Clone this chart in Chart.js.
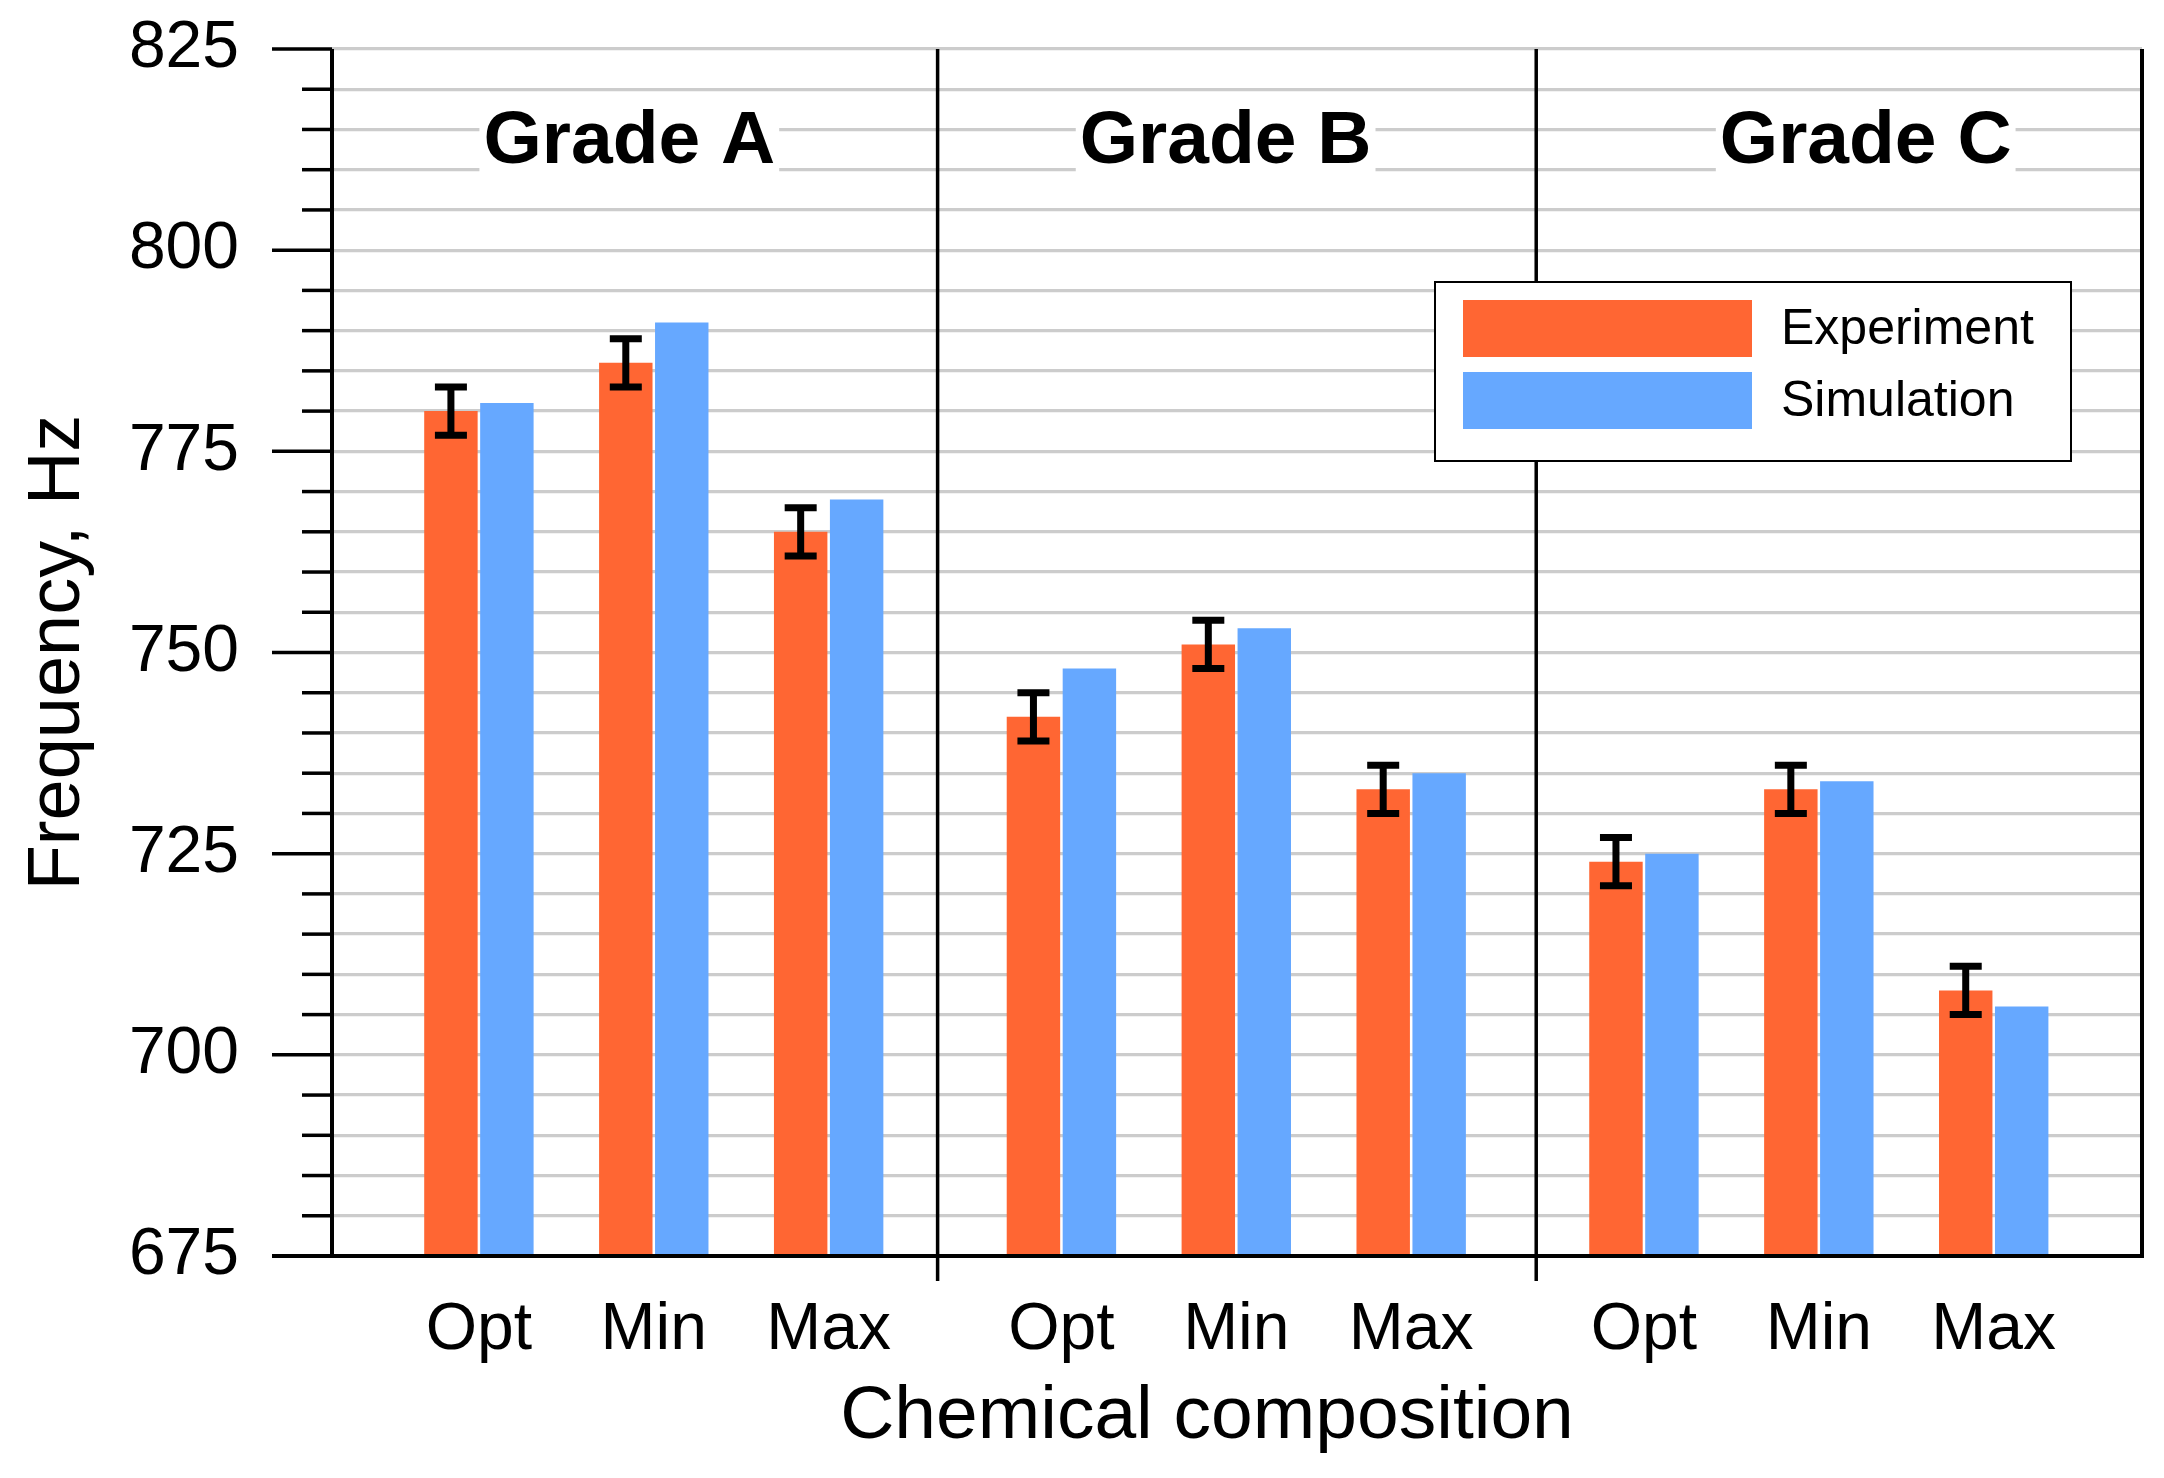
<!DOCTYPE html>
<html>
<head>
<meta charset="utf-8">
<script src="https://cdn.jsdelivr.net/npm/chart.js@4.4.1/dist/chart.umd.min.js"></script>
<style>
  html, body { margin: 0; padding: 0; background: #fff; }
  canvas { display: block; }
</style>
</head>
<body>
<canvas id="chart" width="2164" height="1478"></canvas>
<script>
var categories = ['Opt', 'Min', 'Max', 'Opt', 'Min', 'Max', 'Opt', 'Min', 'Max'];
var grades = ['Grade A', 'Grade B', 'Grade C'];
var experiment = [780, 786, 765, 742, 751, 733, 724, 733, 708];
var experimentErr = [3, 3, 3, 3, 3, 3, 3, 3, 3];
var simulation = [781, 791, 769, 748, 753, 735, 725, 734, 706];
var yTicks = [675, 700, 725, 750, 775, 800, 825];
var xTitle = 'Chemical composition';

// layout, in x axis units (one composition = 1, extra room between grades)
var gradeGap = 0.331;
var gradeLabelX = [0.86, 4.27, 7.93];
var dividerX = [2.623, 6.046];

var orange = '#FF6633';
var blue = '#66A8FF';
var FONT = '"Liberation Sans", Arial, Helvetica, sans-serif';
var MAJOR_TICK = 60, MINOR_TICK = 30;

function xPos(i) { return i + Math.floor(i / 3) * gradeGap; }

var decorations = {
  id: 'decorations',
  afterDatasetsDraw: function (chart) {
    var ctx = chart.ctx, a = chart.chartArea;
    var xs = chart.scales.x, ys = chart.scales.y;
    ctx.save();
    ctx.strokeStyle = '#000';
    ctx.lineCap = 'butt';

    // error bars on the experiment bars
    ctx.lineWidth = 7;
    chart.getDatasetMeta(0).data.forEach(function (bar, i) {
      var top = ys.getPixelForValue(experiment[i] + experimentErr[i]);
      var bot = ys.getPixelForValue(experiment[i] - experimentErr[i]);
      ctx.beginPath();
      ctx.moveTo(bar.x, top); ctx.lineTo(bar.x, bot);
      ctx.moveTo(bar.x - 16, top); ctx.lineTo(bar.x + 16, top);
      ctx.moveTo(bar.x - 16, bot); ctx.lineTo(bar.x + 16, bot);
      ctx.stroke();
    });

    // tick marks on the y axis (long at labels, short between)
    ctx.lineWidth = 3.5;
    for (var v = ys.min; v <= ys.max; v += 5) {
      var y = ys.getPixelForValue(v);
      var len = yTicks.indexOf(v) >= 0 ? MAJOR_TICK : MINOR_TICK;
      ctx.beginPath();
      ctx.moveTo(a.left - len, y); ctx.lineTo(a.left, y);
      ctx.stroke();
    }

    // frame: left axis, bottom axis, right edge
    ctx.lineWidth = 4;
    ctx.beginPath();
    ctx.moveTo(a.left, a.top); ctx.lineTo(a.left, a.bottom);
    ctx.moveTo(a.left - MAJOR_TICK, a.bottom); ctx.lineTo(a.right, a.bottom);
    ctx.moveTo(a.right, a.top); ctx.lineTo(a.right, a.bottom + 2);
    ctx.stroke();

    // grade dividers
    ctx.lineWidth = 3.5;
    dividerX.forEach(function (d) {
      var x = xs.getPixelForValue(d);
      ctx.beginPath();
      ctx.moveTo(x, a.top); ctx.lineTo(x, a.bottom + 25);
      ctx.stroke();
    });

    // grade titles on a white patch
    ctx.font = 'bold 75px ' + FONT;
    ctx.textAlign = 'center';
    ctx.textBaseline = 'alphabetic';
    grades.forEach(function (g, k) {
      var x = xs.getPixelForValue(gradeLabelX[k]);
      var base = ys.getPixelForValue(810.8);
      var w = ctx.measureText(g).width;
      ctx.fillStyle = '#fff';
      ctx.fillRect(x - w / 2 - 4, base - 66, w + 8, 86);
      ctx.fillStyle = '#000';
      ctx.fillText(g, x, base);
    });

    // x axis title, centred on the axis line including the tick stubs
    ctx.font = '75px ' + FONT;
    ctx.textBaseline = 'middle';
    ctx.fillText(xTitle, (a.left - MAJOR_TICK + a.right) / 2, xs.bottom - 61);

    // legend box
    var lx = a.right - 707, ly = a.top + 233;
    ctx.fillStyle = '#fff';
    ctx.fillRect(lx, ly, 636, 179);
    ctx.lineWidth = 2;
    ctx.strokeRect(lx, ly, 636, 179);
    ctx.font = '50px ' + FONT;
    ctx.textAlign = 'left';
    chart.data.datasets.forEach(function (ds, k) {
      var sy = ly + 18 + k * 72;
      ctx.fillStyle = ds.backgroundColor;
      ctx.fillRect(lx + 28, sy, 289, 57);
      ctx.fillStyle = '#000';
      ctx.fillText(ds.label, lx + 346, sy + 30);
    });
    ctx.restore();
  }
};

new Chart(document.getElementById('chart').getContext('2d'), {
  type: 'bar',
  data: {
    datasets: [{
      label: 'Experiment',
      backgroundColor: orange,
      borderWidth: 0,
      data: experiment.map(function (v, i) { return { x: xPos(i), y: v }; })
    }, {
      label: 'Simulation',
      backgroundColor: blue,
      borderWidth: 0,
      data: simulation.map(function (v, i) { return { x: xPos(i), y: v }; })
    }]
  },
  options: {
    responsive: false,
    devicePixelRatio: 1,
    animation: false,
    categoryPercentage: 0.64,
    barPercentage: 0.955,
    layout: { padding: { top: 49, right: 22, bottom: 0, left: 0 } },
    plugins: {
      legend: { display: false },
      tooltip: { enabled: false }
    },
    scales: {
      x: {
        type: 'linear',
        min: -0.84,
        max: 9.51,
        offset: false,
        afterBuildTicks: function (scale) {
          scale.ticks = categories.map(function (c, i) { return { value: xPos(i) }; });
        },
        afterFit: function (scale) {
          scale.height = 222;
          scale.paddingLeft = 0;
          scale.paddingRight = 0;
        },
        grid: { display: false, drawTicks: false, offset: false },
        border: { display: false },
        ticks: {
          autoSkip: false,
          maxRotation: 0,
          padding: 35,
          color: '#000',
          font: { family: FONT, size: 66 },
          callback: function (value, index) { return categories[index]; }
        },
        title: { display: false }
      },
      y: {
        min: 675,
        max: 825,
        afterFit: function (scale) {
          scale.width = 332;
          scale.paddingTop = 0;
          scale.paddingBottom = 0;
        },
        grid: { color: '#cccccc', lineWidth: 3.3, drawTicks: false },
        border: { display: false },
        ticks: {
          stepSize: 5,
          autoSkip: false,
          padding: 93,
          color: '#000',
          font: { family: FONT, size: 66 },
          callback: function (value) { return yTicks.indexOf(value) >= 0 ? value : ''; }
        },
        title: {
          display: true,
          text: 'Frequency, Hz',
          color: '#000',
          font: { family: FONT, size: 74 },
          padding: { top: 14, bottom: 0 }
        }
      }
    }
  },
  plugins: [decorations]
});
</script>
</body>
</html>
